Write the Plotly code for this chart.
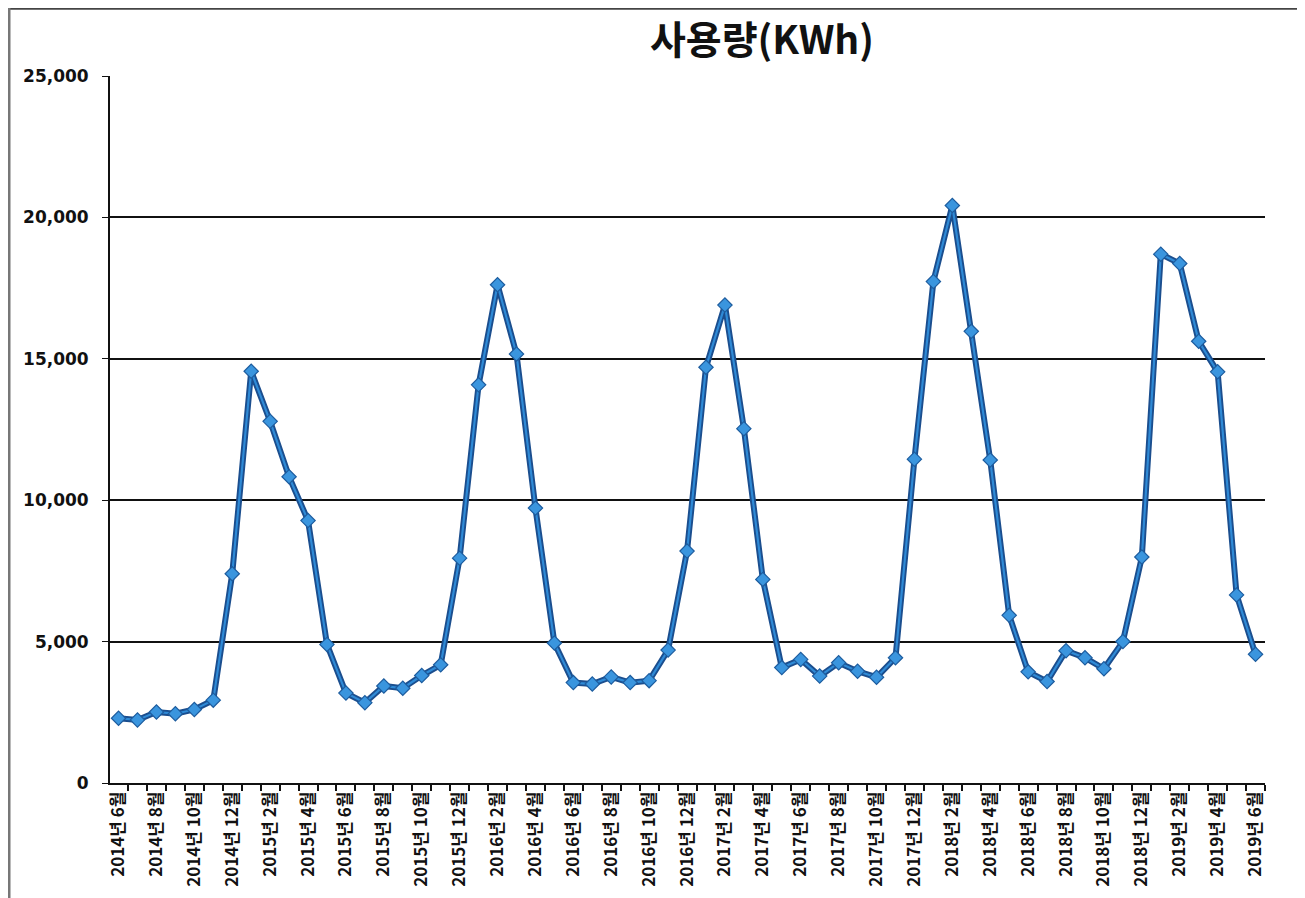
import plotly.graph_objects as go

# ---- data ----
years = [2014]*7 + [2015]*12 + [2016]*12 + [2017]*12 + [2018]*12 + [2019]*6
months = list(range(6, 13)) + list(range(1, 13))*4 + list(range(1, 7))
usage_kwh = [
    2290, 2230, 2510, 2450, 2600, 2930, 7400,
    14560, 12790, 10830, 9280, 4900, 3180, 2840, 3430, 3350, 3800, 4180, 7950,
    14080, 17620, 15170, 9720, 4950, 3550, 3500, 3750, 3550, 3620, 4700, 8200,
    14700, 16900, 12530, 7200, 4080, 4370, 3780, 4250, 3950, 3740, 4430, 11450,
    17730, 20420, 15970, 11420, 5930, 3930, 3590, 4680, 4430, 4040, 5000, 7990,
    18700, 18370, 15620, 14540, 6650, 4550,
]
labels = [f"{y}년 {m}월" for y, m in zip(years, months)]
title_text = "사용량(KWh)"

# the page body has an 8px margin; work in screen px and shift
OFF = 8
W, H = 1305 - OFF, 898 - OFF
L, R, T, B = 110 - OFF, 1265 - OFF, 76 - OFF, 783 - OFF  # plot area in fig px

def px(x):
    return (x - OFF - L) / (R - L)

def py(y):
    return (B - (y - OFF)) / (B - T)

idx = list(range(len(usage_kwh)))
tick_idx = idx[::2]

fig = go.Figure()
# darker outline of the line
fig.add_trace(go.Scatter(
    x=idx, y=usage_kwh, mode="lines",
    line=dict(color="#1b4e8e", width=6),
    hoverinfo="skip", showlegend=False,
))
# lighter core + markers
fig.add_trace(go.Scatter(
    x=idx, y=usage_kwh, mode="lines+markers",
    line=dict(color="#2f8ad6", width=2.2),
    marker=dict(symbol="diamond", size=11, color="#3a95de",
                line=dict(color="#1d5c9e", width=1.2)),
    showlegend=False,
))

fig.update_layout(
    width=W, height=H,
    margin=dict(l=L, r=W - R, t=T, b=H - B),
    paper_bgcolor="white", plot_bgcolor="white",
    title=dict(text=title_text, x=(762 - OFF) / W, xref="container", xanchor="center",
               y=1 - (40 - OFF) / H, yref="container", yanchor="middle",
               font=dict(family="Noto Sans CJK KR", size=39, color="#111", weight="bold")),
    showlegend=False,
)
fig.update_xaxes(
    range=[-0.45, 60.5],
    tickmode="array", tickvals=tick_idx, ticktext=[labels[i] for i in tick_idx],
    tickangle=-90, ticks="",
    tickfont=dict(family="Noto Sans CJK KR", size=17, color="#111", weight="bold"),
    showgrid=False, zeroline=False,
    showline=True, linecolor="#111", linewidth=1.5,
    minor=dict(ticks="outside", tick0=0.5, dtick=1, ticklen=6, tickcolor="#111",
               tickwidth=1.5, showgrid=False),
)
fig.update_yaxes(
    range=[0, 25000], dtick=5000, tickformat=",",
    showgrid=True, gridcolor="#111", gridwidth=1.6,
    zeroline=False,
    showline=True, linecolor="#111", linewidth=1.8,
    ticks="outside", ticklen=6, tickcolor="#111",
    ticklabelstandoff=10,
    tickfont=dict(family="DejaVu Sans", size=17, color="#111", weight="bold"),
)

# page frame: top border line, side borders
fig.add_shape(type="line", xref="paper", yref="paper",
              x0=px(OFF), x1=px(1305), y0=py(OFF + 0.8), y1=py(OFF + 0.8),
              line=dict(color="#444", width=2))
fig.add_shape(type="line", xref="paper", yref="paper",
              x0=px(OFF + 1), x1=px(OFF + 1), y0=py(OFF), y1=py(898 + 5),
              line=dict(color="#777", width=3))
fig.add_shape(type="line", xref="paper", yref="paper",
              x0=px(1299), x1=px(1299), y0=py(OFF), y1=py(898 + 5),
              line=dict(color="#111", width=2))

fig.write_html("out.html")
